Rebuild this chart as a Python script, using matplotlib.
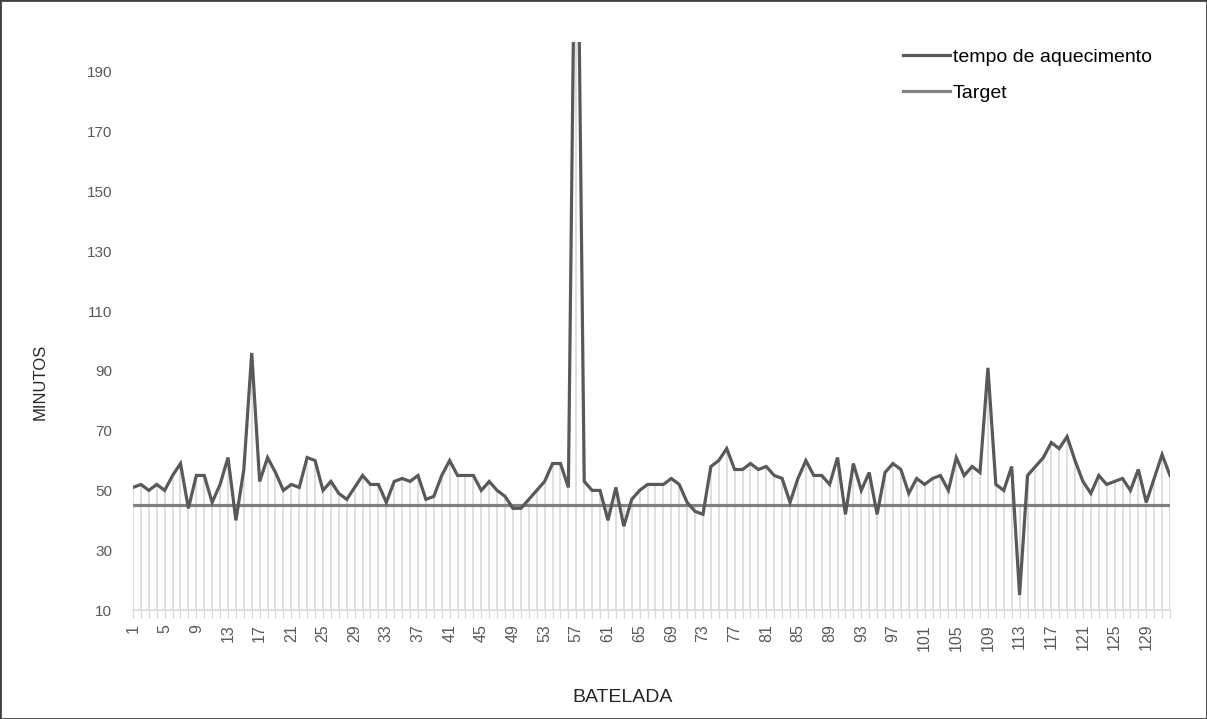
#Heating time per batch vs target
import numpy as np
import matplotlib.pyplot as plt
from matplotlib.patches import Rectangle

#Batch numbers and heating time (minutes)
batelada = list(range(1, 133))
tempo_aquecimento = [51, 52, 50, 52, 50, 55, 59, 44, 55, 55, 46, 52, 61, 40, 57, 96, 53, 61, 56, 50,
                     52, 51, 61, 60, 50, 53, 49, 47, 51, 55, 52, 52, 46, 53, 54, 53, 55, 47, 48, 55,
                     60, 55, 55, 55, 50, 53, 50, 48, 44, 44, 47, 50, 53, 59, 59, 51, 290, 53, 50, 50,
                     40, 51, 38, 47, 50, 52, 52, 52, 54, 52, 46, 43, 42, 58, 60, 64, 57, 57, 59, 57,
                     58, 55, 54, 46, 54, 60, 55, 55, 52, 61, 42, 59, 50, 56, 42, 56, 59, 57, 49, 54,
                     52, 54, 55, 50, 61, 55, 58, 56, 91, 52, 50, 58, 15, 55, 58, 61, 66, 64, 68, 60,
                     53, 49, 55, 52, 53, 54, 50, 57, 46, 54, 62, 55]
target = [45] * len(batelada)

#Axis settings
y_ticks = list(range(10, 200, 20))
x_label_step = 4

plt.rcParams['font.family'] = ['Liberation Sans', 'DejaVu Sans']

fig = plt.figure(figsize=(12.07, 7.19), dpi=100)
ax = fig.add_axes([133/1207, 1-610/719, (1170-133)/1207, (610-42)/719])

x = np.array(batelada)
y = np.array(tempo_aquecimento)
t = np.array(target)

# drop lines from the axis up to the highest series at each batch
ax.vlines(x, 10, np.maximum(y, t), color='#d9d9d9', lw=1.2, zorder=1)

ax.plot(x, y, color='#595959', lw=2.3, label='tempo de aquecimento', zorder=3, solid_joinstyle='miter')
ax.plot(x, t, color='#808080', lw=2.3, label='Target', zorder=2)

ax.set_xlim(x[0], x[-1])
ax.set_ylim(10, 200)
ax.set_yticks(y_ticks)
ax.set_xticks(x)
ax.set_xticklabels([str(b) if (b - 1) % x_label_step == 0 else '' for b in batelada],
                   rotation=90, fontsize=11.5, color='#595959')
ax.tick_params(axis='x', length=6, color='#d9d9d9', pad=4)
ax.tick_params(axis='y', length=0, pad=15, labelsize=11, labelcolor='#595959')

for s in ['top', 'right', 'left']:
    ax.spines[s].set_visible(False)
ax.spines['bottom'].set_color('#d9d9d9')
ax.spines['bottom'].set_linewidth(1.2)

fig.text(623/1207, 1-698/719, 'BATELADA', ha='center', va='center', fontsize=14, color='#262626')
fig.text(40/1207, 1-382/719, 'MINUTOS', ha='center', va='center', rotation=90, fontsize=12, color='#262626')

ax.legend(loc='upper left', bbox_to_anchor=(903/1207, 1-48/719), bbox_transform=fig.transFigure,
          frameon=False, fontsize=14, handlelength=2.4, handletextpad=0.15, labelspacing=0.94,
          borderpad=0, borderaxespad=0)

#Chart border
fig.patches.append(Rectangle((0, 0), 1, 1, transform=fig.transFigure, fill=False,
                             ec='#404040', lw=2))

fig.savefig('out.png', dpi=100)
